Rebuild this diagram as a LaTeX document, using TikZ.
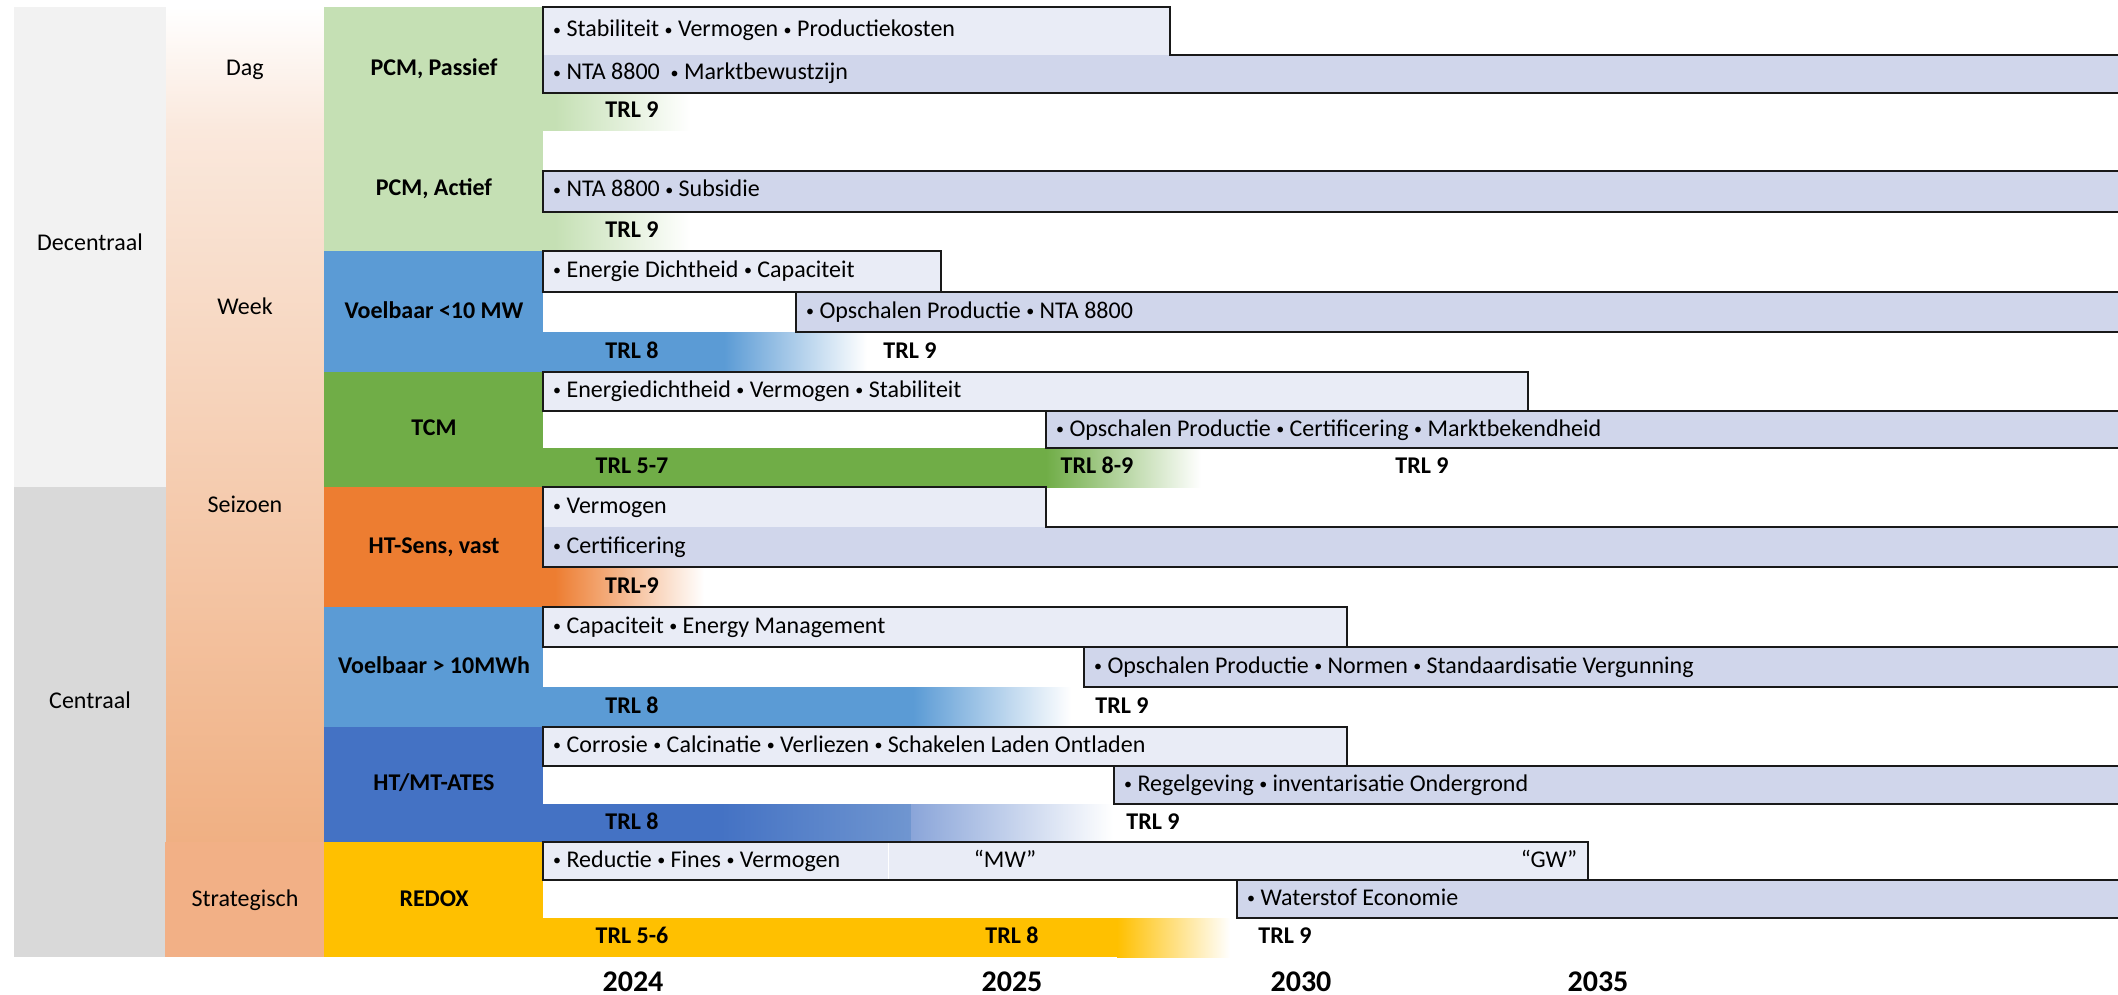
\documentclass[tikz,border=0pt]{standalone}
\usepackage{fontspec}
\setmainfont{Carlito}

\definecolor{decgrey}{HTML}{F2F2F2}
\definecolor{cengrey}{HTML}{D9D9D9}
\definecolor{peachA}{HTML}{FAE8DC}
\definecolor{peachB}{HTML}{F0B083}
\definecolor{peachC}{HTML}{F2B086}
\definecolor{pcmgreen}{HTML}{C5E0B4}
\definecolor{tcmgreen}{HTML}{70AD47}
\definecolor{lightblue}{HTML}{5B9BD5}
\definecolor{darkblue}{HTML}{4472C4}
\definecolor{sensorange}{HTML}{ED7D31}
\definecolor{redoxgold}{HTML}{FFC000}
\definecolor{boxlight}{HTML}{E9ECF6}
\definecolor{boxdark}{HTML}{D0D6EB}
\definecolor{atesmid}{HTML}{7096D0}
\definecolor{atesfade}{HTML}{8AA5D9}

\newcommand{\pnt}{\raisebox{0.15ex}{\fontsize{16}{16}\selectfont•}}

\begin{document}
\begin{tikzpicture}[x=1pt, y=-1pt,
  txt/.style={font=\fontsize{24}{28}\selectfont, inner sep=0pt, text height=17pt, text depth=5pt},
  tech/.style={txt, font=\bfseries\fontsize{24}{28}\selectfont},
  item/.style={txt, anchor=west},
  yr/.style={font=\bfseries\fontsize{30}{34}\selectfont, inner sep=0pt},
  outl/.style={draw=black!90, line width=1.5pt}]

\useasboundingbox (0,0) rectangle (2118,995);
\fill[white] (0,0) rectangle (2118,995);

\fill[decgrey] (14,7) rectangle (166,487);
\fill[cengrey] (14,487) rectangle (166,957);
\shade[top color=white, bottom color=peachA] (166,7) rectangle (324,131);
\shade[top color=peachA, bottom color=peachB] (166,131) rectangle (324,842);
\fill[peachC] (165,842) rectangle (324,957);

\fill[pcmgreen] (324,7) rectangle (543,251);
\fill[lightblue] (324,251) rectangle (543,372);
\fill[tcmgreen] (324,372) rectangle (543,487);
\fill[sensorange] (324,487) rectangle (543,607);
\fill[lightblue] (324,607) rectangle (543,727);
\fill[darkblue] (324,727) rectangle (543,842);
\fill[redoxgold] (324,842) rectangle (543,957);

\fill[pcmgreen] (543,93) rectangle (556,131);
\shade[left color=pcmgreen, right color=white] (555,93) rectangle (690,131);
\fill[pcmgreen] (543,212) rectangle (556,251);
\shade[left color=pcmgreen, right color=white] (555,212) rectangle (690,251);
\fill[lightblue] (543,332) rectangle (725,372);
\shade[left color=lightblue, right color=white] (724,332) rectangle (867,372);
\fill[tcmgreen] (543,448) rectangle (1047,487);
\shade[left color=tcmgreen, right color=white] (1046,448) rectangle (1201,487);
\fill[sensorange] (543,567) rectangle (556,607);
\shade[left color=sensorange, right color=white] (555,567) rectangle (704,607);
\fill[lightblue] (543,687) rectangle (914,727);
\shade[left color=lightblue, right color=white] (913,687) rectangle (1071,727);
\fill[darkblue] (543,804) rectangle (722,842);
\shade[left color=darkblue, right color=atesmid] (721,804) rectangle (911,842);
\shade[left color=atesfade, right color=white] (911,804) rectangle (1113,842);
\fill[redoxgold] (543,918) rectangle (1118,957);
\shade[left color=redoxgold, right color=white] (1117,918) rectangle (1230,957);

\fill[boxlight] (543,7) rectangle (1170,55);
\fill[boxdark] (543,55) rectangle (2118,93);
\fill[boxdark] (543,171) rectangle (2118,212);
\fill[boxlight] (543,251) rectangle (941,292);
\fill[boxdark] (796,292) rectangle (2118,332);
\fill[boxlight] (543,372) rectangle (1528,411);
\fill[boxdark] (1046,411) rectangle (2118,448);
\fill[boxlight] (543,487) rectangle (1046,527);
\fill[boxdark] (543,527) rectangle (2118,567);
\fill[boxlight] (543,607) rectangle (1347,647);
\fill[boxdark] (1084,647) rectangle (2118,687);
\fill[boxlight] (543,727) rectangle (1347,766);
\fill[boxdark] (1114,766) rectangle (2118,804);
\fill[boxlight] (543,842) rectangle (1588,880);
\fill[boxdark] (1237,880) rectangle (2118,918);
\draw[white, line width=1pt] (888,843) -- (888,879);

\draw[outl] (2118,55) -- (1170,55) -- (1170,7) -- (543,7) -- (543,93) -- (2118,93);
\draw[outl] (2118,171) -- (543,171) -- (543,212) -- (2118,212);
\draw[outl] (543,251) rectangle (941,292);
\draw[outl] (2118,292) -- (796,292) -- (796,332) -- (2118,332);
\draw[outl] (543,372) rectangle (1528,411);
\draw[outl] (2118,411) -- (1046,411) -- (1046,448) -- (2118,448);
\draw[outl] (2118,527) -- (1046,527) -- (1046,487) -- (543,487) -- (543,567) -- (2118,567);
\draw[outl] (543,607) rectangle (1347,647);
\draw[outl] (2118,647) -- (1084,647) -- (1084,687) -- (2118,687);
\draw[outl] (543,727) rectangle (1347,766);
\draw[outl] (2118,766) -- (1114,766) -- (1114,804) -- (2118,804);
\draw[outl] (543,842) rectangle (1588,880);
\draw[outl] (2118,880) -- (1237,880) -- (1237,918) -- (2118,918);

\node[txt] (dec) at (90,245) {Decentraal};
\node[txt] (cen) at (90,702) {Centraal};
\node[txt] (dag) at (245,70) {Dag};
\node[txt] (week) at (245,308) {Week};
\node[txt] (seiz) at (245,506) {Seizoen};
\node[txt] (strat) at (245,900) {Strategisch};

\node[tech] (pcmp) at (434,70) {PCM, Passief};
\node[tech] (pcma) at (434,190) {PCM, Actief};
\node[tech] (voelk) at (434,312) {Voelbaar <10 MW};
\node[tech] (tcm) at (434,429) {TCM};
\node[tech] (hts) at (434,547) {HT-Sens, vast};
\node[tech] (voelg) at (434,667) {Voelbaar > 10MWh};
\node[tech] (ates) at (434,784) {HT/MT-ATES};
\node[tech] (redox) at (434,900) {REDOX};

\node[item] (pp1) at (553,31) {\pnt{} Stabiliteit \pnt{} Vermogen \pnt{} Productiekosten};
\node[item] (pp2) at (553,74) {\pnt{} NTA 8800 \ \pnt{} Marktbewustzijn};
\node[item] (pa1) at (553,191) {\pnt{} NTA 8800 \pnt{} Subsidie};
\node[item] (vk1) at (553,271) {\pnt{} Energie Dichtheid \pnt{} Capaciteit};
\node[item] (vk2) at (806,312) {\pnt{} Opschalen Productie \pnt{} NTA 8800};
\node[item] (tc1) at (553,391) {\pnt{} Energiedichtheid \pnt{} Vermogen \pnt{} Stabiliteit};
\node[item] (tc2) at (1056,430) {\pnt{} Opschalen Productie \pnt{} Certificering \pnt{} Marktbekendheid};
\node[item] (hs1) at (553,507) {\pnt{} Vermogen};
\node[item] (hs2) at (553,547) {\pnt{} Certificering};
\node[item] (vg1) at (553,627) {\pnt{} Capaciteit \pnt{} Energy Management};
\node[item] (vg2) at (1094,667) {\pnt{} Opschalen Productie \pnt{} Normen \pnt{} Standaardisatie Vergunning};
\node[item] (at1) at (553,746) {\pnt{} Corrosie \pnt{} Calcinatie \pnt{} Verliezen \pnt{} Schakelen Laden Ontladen};
\node[item] (at2) at (1124,785) {\pnt{} Regelgeving \pnt{} inventarisatie Ondergrond};
\node[item] (rd1) at (553,861) {\pnt{} Reductie \pnt{} Fines \pnt{} Vermogen};
\node[txt] (mw) at (1005,861) {“MW”};
\node[txt] (gw) at (1549,861) {“GW”};
\node[item] (rd2) at (1247,899) {\pnt{} Waterstof Economie};

\node[tech] (pp9) at (632,112) {TRL 9};
\node[tech] (pa9) at (632,231) {TRL 9};
\node[tech] (vk8) at (632,352) {TRL 8};
\node[tech] (vk9) at (910,352) {TRL 9};
\node[tech] (tc57) at (632,467) {TRL 5-7};
\node[tech] (tc89) at (1097,467) {TRL 8-9};
\node[tech] (tc9) at (1422,467) {TRL 9};
\node[tech] (hs9) at (632,587) {TRL-9};
\node[tech] (vg8) at (632,707) {TRL 8};
\node[tech] (vg9) at (1122,707) {TRL 9};
\node[tech] (at8) at (632,823) {TRL 8};
\node[tech] (at9) at (1153,823) {TRL 9};
\node[tech] (rd56) at (632,937) {TRL 5-6};
\node[tech] (rd8) at (1012,937) {TRL 8};
\node[tech] (rd9) at (1285,937) {TRL 9};

\node[yr] (y24) at (633,982) {2024};
\node[yr] (y25) at (1012,982) {2025};
\node[yr] (y30) at (1301,982) {2030};
\node[yr] (y35) at (1598,982) {2035};
\end{tikzpicture}
\end{document}
